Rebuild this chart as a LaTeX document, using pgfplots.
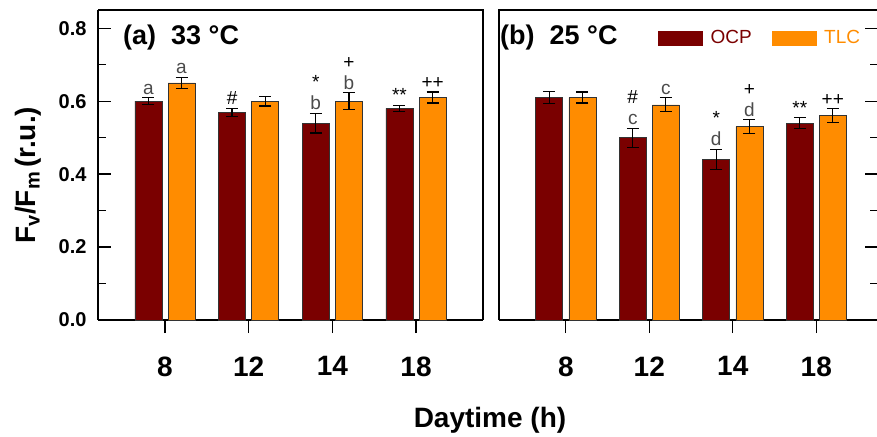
\documentclass[border=0pt]{standalone}
\usepackage{fontspec}
\setmainfont{Liberation Sans}
\usepackage{pgfplots}
\usepackage{pgfplotstable}
\pgfplotsset{compat=1.18}

\definecolor{ocp}{RGB}{122,0,0}
\definecolor{tlc}{RGB}{255,140,0}
\definecolor{sig}{RGB}{75,75,75}

% Fv/Fm at 33 C: position, OCP mean, OCP sd, TLC mean, TLC sd
\pgfplotstableread{
x ocp ocpe tlc tlce
0 0.60 0.010 0.65 0.016
1 0.57 0.011 0.60 0.013
2 0.54 0.027 0.60 0.023
3 0.58 0.009 0.61 0.015
}\dataA
% Fv/Fm at 25 C
\pgfplotstableread{
x ocp ocpe tlc tlce
0 0.61 0.017 0.61 0.015
1 0.50 0.026 0.59 0.019
2 0.44 0.028 0.53 0.019
3 0.54 0.015 0.56 0.019
}\dataB

\pgfplotsset{
  panel/.style={
    scale only axis, anchor=south west,
    height=310pt, ymin=0, ymax=0.85,
    xmin=-0.8,
    ybar,
    axis line style={line width=1.5pt},
    axis x line*=bottom,
    xtick={0,1,2,3}, xticklabels={8,12,14,18},
    xtick style={line width=1.3pt, black},
    xtick align=outside,
    major tick length=13pt, minor tick length=8pt,
    xticklabel style={font=\bfseries\fontsize{28}{28}\selectfont, yshift=-20pt},
    ytick={0,0.2,0.4,0.6,0.8},
    minor ytick={0.1,0.3,0.5,0.7},
    ytick style={line width=1.3pt, black},
    ytick align=inside,
    clip=false,
  },
  ocpbar/.style={
    fill=ocp, draw=black!80, line width=0.6pt,
    bar width=0.323, bar shift=-0.198, forget plot,
    error bars/.cd, y dir=both, y explicit,
    error bar style={line width=1.2pt, black},
    error mark options={rotate=90, mark size=6pt, line width=1.2pt, black},
  },
  tlcbar/.style={
    fill=tlc, draw=black!80, line width=0.6pt,
    bar width=0.323, bar shift=0.198, forget plot,
    error bars/.cd, y dir=both, y explicit,
    error bar style={line width=1.2pt, black},
    error mark options={rotate=90, mark size=6pt, line width=1.2pt, black},
  },
}

\tikzset{
  lab/.style={anchor=south, yshift=3pt, inner sep=0pt, align=center,
    font=\fontsize{19}{21}\selectfont, text=sig},
  ttl/.style={anchor=west, inner sep=0pt, font=\bfseries\fontsize{27}{27}\selectfont},
}

\begin{document}
\begin{tikzpicture}[x=1pt, y=1pt]
\useasboundingbox (0,0) rectangle (877,436);

% panel (a): 33 C
\begin{axis}[panel, at={(98pt,116pt)}, width=385pt, xmax=3.8,
  axis y line*=left,
  separate axis lines,
  every outer x axis line/.append style={-},
  every outer y axis line/.append style={-},
  yticklabel style={font=\bfseries\fontsize{20}{20}\selectfont, xshift=-8pt},
  /pgf/number format/assume math mode=true,
  /pgf/number format/.cd, fixed, fixed zerofill, precision=1,
]
\addplot[ocpbar] table[x=x, y=ocp, y error=ocpe]{\dataA};
\addplot[tlcbar] table[x=x, y=tlc, y error=tlce]{\dataA};
\draw[line width=1.5pt] (rel axis cs:0,1) -- (rel axis cs:1,1) -- (rel axis cs:1,0);
\node[ttl] at (rel axis cs:0.065,0.91) {(a)\ \ 33 °C};
\node[lab] at (axis cs:-0.198,0.610) {a};
\node[lab] at (axis cs:0.198,0.666) {a};
\node[lab, text=black] at (axis cs:0.802,0.581) {\#};
\node[lab] at (axis cs:1.802,0.567) {\textcolor{black}{*}\\b};
\node[lab] at (axis cs:2.198,0.623) {\textcolor{black}{+}\\b};
\node[lab, text=black] at (axis cs:2.802,0.589) {**};
\node[lab, text=black] at (axis cs:3.198,0.625) {++};
\end{axis}

% panel (b): 25 C
\begin{axis}[panel, at={(499pt,116pt)}, width=379pt, xmax=3.739,
  axis y line*=right,
  separate axis lines,
  every outer x axis line/.append style={-},
  every outer y axis line/.append style={-},
  yticklabels={},
  legend style={at={(0.4195,0.91)}, anchor=west, draw=none, fill=none,
    inner sep=0pt, legend columns=2,
    font=\fontsize{19}{19}\selectfont,
    nodes={inner sep=0pt},
    /tikz/every odd column/.append style={column sep=8pt},
    /tikz/every even column/.append style={column sep=20pt}},
]
\addlegendimage{legend image code/.code={\fill[ocp] (0pt,-7pt) rectangle (44pt,7pt);}}
\addlegendentry{\textcolor{ocp}{OCP}}
\addlegendimage{legend image code/.code={\fill[tlc] (0pt,-7pt) rectangle (44pt,7pt);}}
\addlegendentry{\textcolor{tlc}{TLC}}
\addplot[ocpbar] table[x=x, y=ocp, y error=ocpe]{\dataB};
\addplot[tlcbar] table[x=x, y=tlc, y error=tlce]{\dataB};
\draw[line width=1.5pt] (rel axis cs:1,1) -- (rel axis cs:0,1) -- (rel axis cs:0,0);
\node[ttl] at (rel axis cs:0.0,0.91) {\hspace*{1pt}(b)\ \ 25 °C};
\node[lab] at (axis cs:0.802,0.526) {\textcolor{black}{\#}\\c};
\node[lab] at (axis cs:1.198,0.609) {c};
\node[lab] at (axis cs:1.802,0.468) {\textcolor{black}{*}\\d};
\node[lab] at (axis cs:2.198,0.549) {\textcolor{black}{+}\\d};
\node[lab, text=black] at (axis cs:2.802,0.555) {**};
\node[lab, text=black] at (axis cs:3.198,0.579) {++};
\end{axis}

% shared axis titles
\node[rotate=90, font=\bfseries\fontsize{28}{28}\selectfont, inner sep=0pt]
  at (28,261) {F\raisebox{-0.3ex}{\fontsize{20}{20}\selectfont v}/F\raisebox{-0.3ex}{\fontsize{20}{20}\selectfont m}\,(r.u.)};
\node[font=\bfseries\fontsize{28}{28}\selectfont, inner sep=0pt] at (490,16) {Daytime (h)};
\end{tikzpicture}
\end{document}
